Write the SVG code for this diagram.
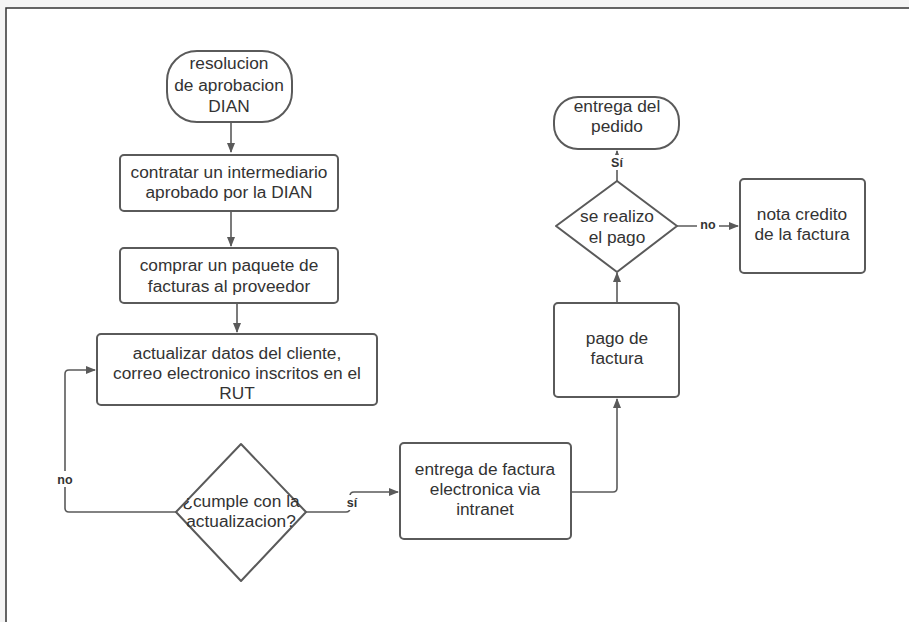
<svg xmlns="http://www.w3.org/2000/svg" width="909" height="622" viewBox="0 0 909 622">
<style>
.sh{fill:#fff;stroke:#5a5a5a;stroke-width:2}
.t{font-family:"Liberation Sans",Arial,sans-serif;font-size:17.3px;fill:#333;text-anchor:middle}
.lb{font-family:"Liberation Sans",Arial,sans-serif;font-size:12.5px;font-weight:bold;fill:#333;text-anchor:middle}
.c{fill:none;stroke:#5a5a5a;stroke-width:1.6;stroke-linejoin:round}
</style>
<defs>
<marker id="ah" markerWidth="10" markerHeight="10" refX="9" refY="5" orient="auto" markerUnits="userSpaceOnUse">
<path d="M0,1 L10,5 L0,9 Z" fill="#5a5a5a"/>
</marker>
</defs>
<rect x="0" y="0" width="909" height="622" fill="#f4f4f4"/>
<rect x="6" y="8" width="903" height="614" fill="#fff"/>
<path d="M6,622 V8 H909" fill="none" stroke="#333" stroke-width="1.5"/>

<g id="connectors">
<path class="c" d="M231,122 V152" marker-end="url(#ah)"/>
<path class="c" d="M231,211 V246" marker-end="url(#ah)"/>
<path class="c" d="M237,303 V332" marker-end="url(#ah)"/>
<path class="c" d="M176,512 H69 Q65,512 65,508 V374 Q65,370 69,370 H95" marker-end="url(#ah)"/>
<path class="c" d="M306,512 H346 Q350,512 350,508 V496 Q350,492 354,492 H398" marker-end="url(#ah)"/>
<path class="c" d="M571,492 H613 Q617,492 617,488 V399" marker-end="url(#ah)"/>
<path class="c" d="M617,303 V273" marker-end="url(#ah)"/>
<path class="c" d="M617,181 V151" marker-end="url(#ah)"/>
<path class="c" d="M677,226 H738" marker-end="url(#ah)"/>
<rect x="54" y="471" width="22" height="16" fill="#fff"/>
<text class="lb" x="65" y="484">no</text>
<rect x="343" y="495" width="18" height="15" fill="#fff"/>
<text class="lb" x="352" y="507">sí</text>
<rect x="608" y="155" width="18" height="15" fill="#fff"/>
<text class="lb" x="617" y="167">Sí</text>
<rect x="697" y="218" width="22" height="14" fill="#fff"/>
<text class="lb" x="708" y="229">no</text>
</g>

<g id="n1">
<rect class="sh" x="167" y="51" width="125" height="71" rx="30"/>
<text class="t" x="229" y="69">resolucion</text>
<text class="t" x="229" y="91">de aprobacion</text>
<text class="t" x="229" y="112">DIAN</text>
</g>
<g id="n2">
<rect class="sh" x="120" y="155" width="218" height="56" rx="4"/>
<text class="t" x="229" y="178">contratar un intermediario</text>
<text class="t" x="229" y="198">aprobado por la DIAN</text>
</g>
<g id="n3">
<rect class="sh" x="120" y="248" width="218" height="55" rx="4"/>
<text class="t" x="229" y="271">comprar un paquete de</text>
<text class="t" x="229" y="292">facturas al proveedor</text>
</g>
<g id="n4">
<rect class="sh" x="97" y="334" width="280" height="71" rx="4"/>
<text class="t" x="237" y="359">actualizar datos del cliente,</text>
<text class="t" x="237" y="379">correo electronico inscritos en el</text>
<text class="t" x="237" y="399">RUT</text>
</g>
<g id="n5">
<path class="sh" d="M241,444 L306,512 L241,581 L176,512 Z" stroke-linejoin="round"/>
<text class="t" x="241" y="507">¿cumple con la</text>
<text class="t" x="241" y="527">actualizacion?</text>
</g>
<g id="n6">
<rect class="sh" x="400" y="443" width="171" height="96" rx="4"/>
<text class="t" x="485" y="475">entrega de factura</text>
<text class="t" x="485" y="495">electronica via</text>
<text class="t" x="485" y="515">intranet</text>
</g>
<g id="n7">
<rect class="sh" x="554" y="303" width="125" height="94" rx="4"/>
<text class="t" x="617" y="344">pago de</text>
<text class="t" x="617" y="364">factura</text>
</g>
<g id="n8">
<path class="sh" d="M617,181 L677,226 L617,272 L556,226 Z" stroke-linejoin="round"/>
<text class="t" x="617" y="222">se realizo</text>
<text class="t" x="617" y="243">el pago</text>
</g>
<g id="n9">
<rect class="sh" x="554" y="97" width="125" height="52" rx="24"/>
<text class="t" x="617" y="112">entrega del</text>
<text class="t" x="617" y="132">pedido</text>
</g>
<g id="n10">
<rect class="sh" x="740" y="179" width="125" height="94" rx="4"/>
<text class="t" x="802" y="220">nota credito</text>
<text class="t" x="802" y="240">de la factura</text>
</g>
</svg>
